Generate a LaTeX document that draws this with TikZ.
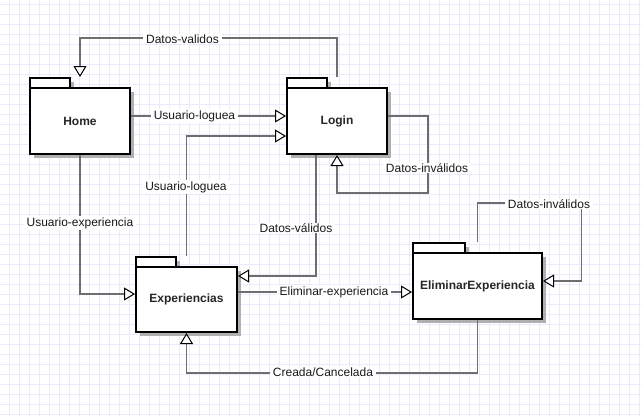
\documentclass[tikz,border=0pt]{standalone}
\usepackage{fontspec}
\setmainfont{Liberation Sans}
\usetikzlibrary{arrows.meta,shadows,calc}
\definecolor{gridc}{HTML}{EAEAFA}
\definecolor{linec}{HTML}{6E6E6E}
\definecolor{shad}{HTML}{B0B0B0}
\tikzset{
  pkgbody/.style={draw=black, line width=2pt, fill=white, inner sep=0pt,
    font=\fontsize{12}{14}\selectfont\bfseries, text=black!85,
    drop shadow={shadow xshift=4pt, shadow yshift=-4pt, fill=shad, opacity=1}},
  pkgtab/.style={draw=black, line width=2pt, fill=white,
    drop shadow={shadow xshift=4pt, shadow yshift=-4pt, fill=shad, opacity=1}},
  conn/.style={draw=linec, line width=1.3pt,
    -{Triangle[length=11pt,width=13pt,fill=white,color=black,line width=1pt]}},
  lbl/.style={fill=white, inner xsep=3pt, inner ysep=1pt, font=\fontsize{12}{14}\selectfont, text=black!90}
}
\begin{document}
\begin{tikzpicture}[x=1pt,y=-1pt]
\useasboundingbox (0,0) rectangle (641,416);
\fill[white] (0,0) rectangle (641,416);
\foreach \i in {9,19,...,639} \draw[gridc, line width=0.7pt] (\i,0) -- (\i,416);
\foreach \j in {4,14,...,414} \draw[gridc, line width=0.7pt] (0,\j) -- (641,\j);

% tabs
\draw[pkgtab] (30,78) rectangle (70,88);
\draw[pkgtab] (287,78) rectangle (327,88);
\draw[pkgtab] (136,257) rectangle (176,267);
\draw[pkgtab] (413,243) rectangle (465,253);

% bodies
\node[pkgbody, minimum width=100pt, minimum height=66pt] (home) at (80,121) {Home};
\node[pkgbody, minimum width=100pt, minimum height=66pt] (login) at (337,121) {Login};
\node[pkgbody, minimum width=101pt, minimum height=65pt] (exp) at (186.5,299.5) {Experiencias};
\node[pkgbody, minimum width=129pt, minimum height=66pt] (elim) at (477.5,286) {EliminarExperiencia};

% connectors
\draw[conn] ([yshift=10pt]login.north) -- ++(0,-39) -| ([yshift=10pt]home.north);
\draw[conn] ([yshift=5pt]home.east) -- ([yshift=5pt]login.west);
\draw[conn] ([yshift=10pt]exp.north) |- ([yshift=-15pt]login.west);
\draw[conn] ([yshift=5pt]login.east) -- ++(40,0) -- ++(0,77) -| (login.south);
\draw[conn] ([xshift=-21pt]login.south) |- ([yshift=23.5pt]exp.east);
\draw[conn] (home.south) |- ([yshift=5.5pt]exp.west);
\draw[conn] ([yshift=7.5pt]exp.east) -- ([yshift=7.5pt]exp.east -| elim.west);
\draw[conn] ([yshift=10pt]elim.north) -- ++(0,-39) -- ++(104,0) |- ([yshift=5pt]elim.east);
\draw[conn] (elim.south) -- ++(0,53) -| (exp.south);

% labels
\node[lbl] (l1) at (182.5,39) {Datos-validos};
\node[lbl] (l2) at (194.5,116) {Usuario-loguea};
\node[lbl] (l3) at (186,187) {Usuario-loguea};
\node[lbl] (l4) at (427,168) {Datos-inválidos};
\node[lbl] (l5) at (296,228) {Datos-válidos};
\node[lbl] (l6) at (80,223) {Usuario-experiencia};
\node[lbl] (l7) at (334,292) {Eliminar-experiencia};
\node[lbl] (l8) at (549,204) {Datos-inválidos};
\node[lbl] (l9) at (323,372) {Creada/Cancelada};
\end{tikzpicture}
\end{document}
